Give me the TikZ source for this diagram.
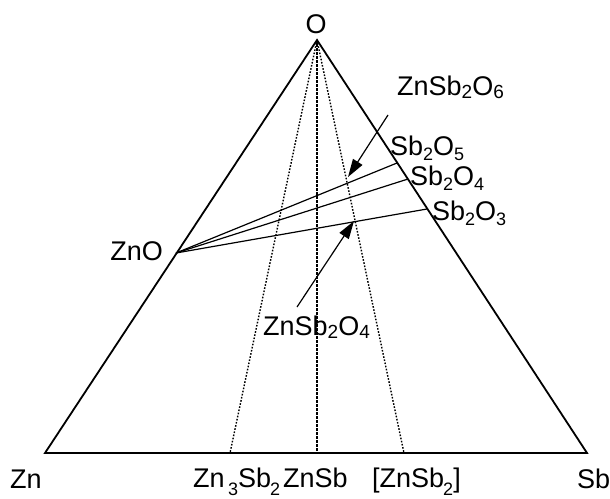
\documentclass[tikz,border=0pt]{standalone}
\usepackage{fontspec}
\setmainfont{Liberation Sans}
\usetikzlibrary{arrows.meta}
\newcommand{\lowsub}[1]{\kern-1pt\raisebox{-8pt}{\fontsize{18}{18}\selectfont #1}}
\newcommand{\oxsub}[1]{\raisebox{-5pt}{\fontsize{18}{18}\selectfont #1}}
\newcommand{\midsub}[1]{\raisebox{-3pt}{\fontsize{19}{19}\selectfont #1}}

\begin{document}
\begin{tikzpicture}[x=1pt,y=-1pt]
\tikzset{
  phaselabel/.style={inner sep=0pt,font=\fontsize{27}{30}\selectfont},
  sideline/.style={draw=black,line width=1.8pt,line join=miter},
  tieline/.style={draw=black,line width=1.2pt},
  joinline/.style={draw=black,line width=1.4pt,dash pattern=on 1.6pt off 1.6pt},
  mainjoin/.style={draw=black,line width=2.4pt,dash pattern=on 2.6pt off 1.4pt},
  pointer/.style={draw=black,line width=1.2pt,-{Triangle[length=18pt,width=11pt]}}
}
\useasboundingbox (0,0) rectangle (610,498);
\coordinate (c_O) at (317,40);
\coordinate (c_Zn) at (45,453);
\coordinate (c_Sb) at (587,453);
\coordinate (c_ZnO) at (176,253);
\coordinate (c_Sb2O5) at (397,163);
\coordinate (c_Sb2O4) at (408,179);
\coordinate (c_Sb2O3) at (427,209);
\coordinate (c_Zn3Sb2) at (230,453);
\coordinate (c_ZnSb) at (317,453);
\coordinate (c_ZnSb2) at (404,453);
\coordinate (c_p6) at (388,115);
\coordinate (c_t6) at (348,177);
\coordinate (c_p4) at (297,307);
\coordinate (c_t4) at (354,221);
\node[phaselabel,anchor=base] (l_O) at (316,33) {O};
\node[phaselabel,anchor=base west] (l_Zn) at (10,488) {Zn};
\node[phaselabel,anchor=base west] (l_Sb) at (577,488) {Sb};
\node[phaselabel,anchor=base east] (l_ZnO) at (163,260) {ZnO};
\node[phaselabel,anchor=base west] (l_ZnSb2O6) at (397,95) {ZnSb\midsub{2}O\midsub{6}};
\node[phaselabel,anchor=base west] (l_ZnSb2O4) at (263,335) {ZnSb\midsub{2}O\midsub{4}};
\node[phaselabel,anchor=base west] (l_Sb2O5) at (390,155) {Sb\oxsub{2}O\oxsub{5}};
\node[phaselabel,anchor=base west] (l_Sb2O4) at (410,185) {Sb\oxsub{2}O\oxsub{4}};
\node[phaselabel,anchor=base west] (l_Sb2O3) at (432,220) {Sb\oxsub{2}O\oxsub{3}};
\node[phaselabel,anchor=base west] (l_Zn3Sb2) at (193,487) {Zn\,\lowsub{3}Sb\lowsub{2}};
\node[phaselabel,anchor=base west] (l_ZnSb) at (283,487) {ZnSb};
\node[phaselabel,anchor=base west] (l_ZnSb2) at (372,487) {[ZnSb\lowsub{2}]};
\draw[sideline] (c_Zn) -- (c_O) -- (c_Sb) -- cycle;
\draw[joinline] (c_O) -- (c_Zn3Sb2);
\draw[joinline] (c_O) -- (c_ZnSb2);
\draw[mainjoin] (c_O) -- (c_ZnSb);
\draw[tieline] (c_ZnO) -- (c_Sb2O5);
\draw[tieline] (c_ZnO) -- (c_Sb2O4);
\draw[tieline] (c_ZnO) -- (c_Sb2O3);
\draw[pointer] (c_p6) -- (c_t6);
\draw[pointer] (c_p4) -- (c_t4);
\end{tikzpicture}
\end{document}
